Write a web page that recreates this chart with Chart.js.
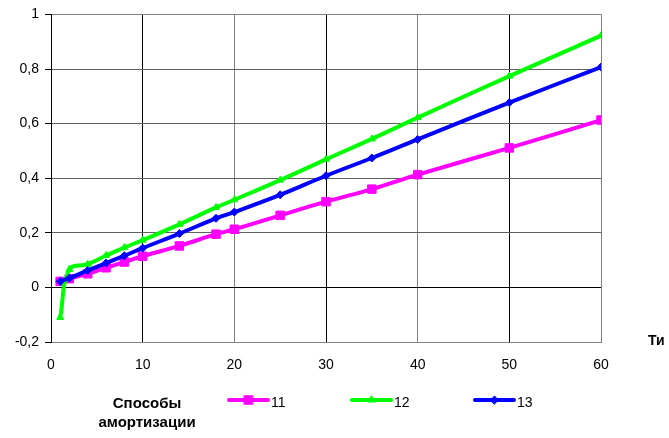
<!DOCTYPE html>
<html>
<head>
<meta charset="utf-8">
<script src="https://cdn.jsdelivr.net/npm/chart.js@4/dist/chart.umd.min.js"></script>
<style>
  html, body { margin: 0; padding: 0; background: #fff; }
  #wrap { width: 669px; height: 438px; position: relative; }
</style>
</head>
<body>
<div id="wrap"><canvas id="c"></canvas></div>
<script>
// Срок (годы) и доля амортизации по трём способам
const years = [1, 2, 4, 6, 8, 10, 14, 18, 20, 25, 30, 35, 40, 50, 60];
const method11 = [0.022, 0.032, 0.05, 0.072, 0.093, 0.114, 0.152, 0.195, 0.213, 0.264, 0.314, 0.36, 0.413, 0.511, 0.613];
const method12 = [-0.11, 0.066, 0.085, 0.117, 0.146, 0.173, 0.231, 0.293, 0.321, 0.393, 0.469, 0.544, 0.622, 0.774, 0.922];
const method13 = [0.022, 0.034, 0.062, 0.089, 0.116, 0.144, 0.197, 0.253, 0.276, 0.339, 0.409, 0.474, 0.542, 0.677, 0.807];
const seriesNames = ['11', '12', '13'];
const legendTitle = ['Способы', 'амортизации'];
const xAxisTitle = 'Ти';

const FONT = '"Liberation Sans", Arial, sans-serif';

function pts(ys) { return years.map((x, i) => ({ x: x, y: ys[i] })); }

function series(label, ys, color, style, radius, order) {
  return {
    label: label,
    data: pts(ys),
    showLine: true,
    borderColor: color,
    backgroundColor: color,
    borderWidth: 4,
    tension: 0.4,
    pointStyle: style,
    pointRadius: radius,
    pointBorderWidth: 1,
    pointBackgroundColor: color,
    pointBorderColor: color,
    order: order
  };
}

// Подпись легенды и обозначение оси справа
const extras = {
  id: 'extras',
  afterDraw(chart) {
    const ctx = chart.ctx;
    ctx.save();
    ctx.fillStyle = '#000';
    ctx.textBaseline = 'middle';
    ctx.font = 'bold 14px ' + FONT;
    ctx.textAlign = 'left';
    ctx.fillText(xAxisTitle, 648, 341);

    ctx.font = 'bold 15px ' + FONT;
    ctx.textAlign = 'center';
    ctx.fillText(legendTitle[0], 147, 404);
    ctx.fillText(legendTitle[1], 147, 423);

    const starts = [229, 352, 475];
    chart.data.datasets.forEach((ds, i) => {
      const x0 = starts[i], x1 = x0 + 39, y = 400;
      ctx.strokeStyle = ds.borderColor;
      ctx.lineWidth = 4;
      ctx.lineCap = 'round';
      ctx.beginPath();
      ctx.moveTo(x0, y);
      ctx.lineTo(x1, y);
      ctx.stroke();
      ctx.fillStyle = ds.borderColor;
      ctx.lineWidth = 1;
      Chart.helpers.drawPoint(ctx, {
        pointStyle: ds.pointStyle,
        radius: ds.pointRadius,
        rotation: 0,
        borderWidth: 1
      }, (x0 + x1) / 2, y);
      ctx.fillStyle = '#000';
      ctx.font = '14px ' + FONT;
      ctx.textAlign = 'left';
      ctx.fillText(ds.label, x1 + 3, 403);
    });
    ctx.restore();
  }
};

new Chart(document.getElementById('c'), {
  type: 'scatter',
  data: {
    datasets: [
      series(seriesNames[0], method11, '#FF00FF', 'rect', 6, 2),
      series(seriesNames[1], method12, '#00FF00', 'triangle', 4, 1),
      series(seriesNames[2], method13, '#0000FF', 'rectRot', 4, 0)
    ]
  },
  options: {
    responsive: true,
    maintainAspectRatio: false,
    animation: false,
    events: [],
    layout: { padding: { left: 0, right: 68, top: 11, bottom: 0 } },
    plugins: { legend: { display: false }, tooltip: { enabled: false } },
    scales: {
      x: {
        type: 'linear',
        min: 0, max: 60,
        afterFit(s) { s.height = 96; },
        border: { display: true, color: '#808080', width: 1 },
        grid: {
          drawTicks: false,
          color: (c) => {
            const v = c.tick ? c.tick.value : 0;
            return (v / 10) % 2 === 1 ? '#000000' : '#808080';
          },
          lineWidth: 1
        },
        ticks: {
          stepSize: 10,
          padding: 15,
          color: '#000',
          font: { family: FONT, size: 14 },
          maxRotation: 0
        }
      },
      y: {
        type: 'linear',
        min: -0.2, max: 1,
        afterFit(s) { s.width = 51; },
        border: { display: true, color: '#000', width: 1 },
        grid: {
          drawTicks: true,
          tickLength: 6,
          tickColor: '#000',
          color: (c) => {
            const v = c.tick ? Math.round(c.tick.value * 10) / 10 : 0;
            if (v === 0) return '#000000';
            if (v === 1 || v === -0.2) return '#808080';
            return '#606060';
          },
          lineWidth: 1
        },
        ticks: {
          stepSize: 0.2,
          padding: 6,
          color: '#000',
          font: { family: FONT, size: 14 },
          callback: (v) => String(Math.round(v * 10) / 10).replace('.', ',')
        }
      }
    }
  },
  plugins: [extras]
});
</script>
</body>
</html>
